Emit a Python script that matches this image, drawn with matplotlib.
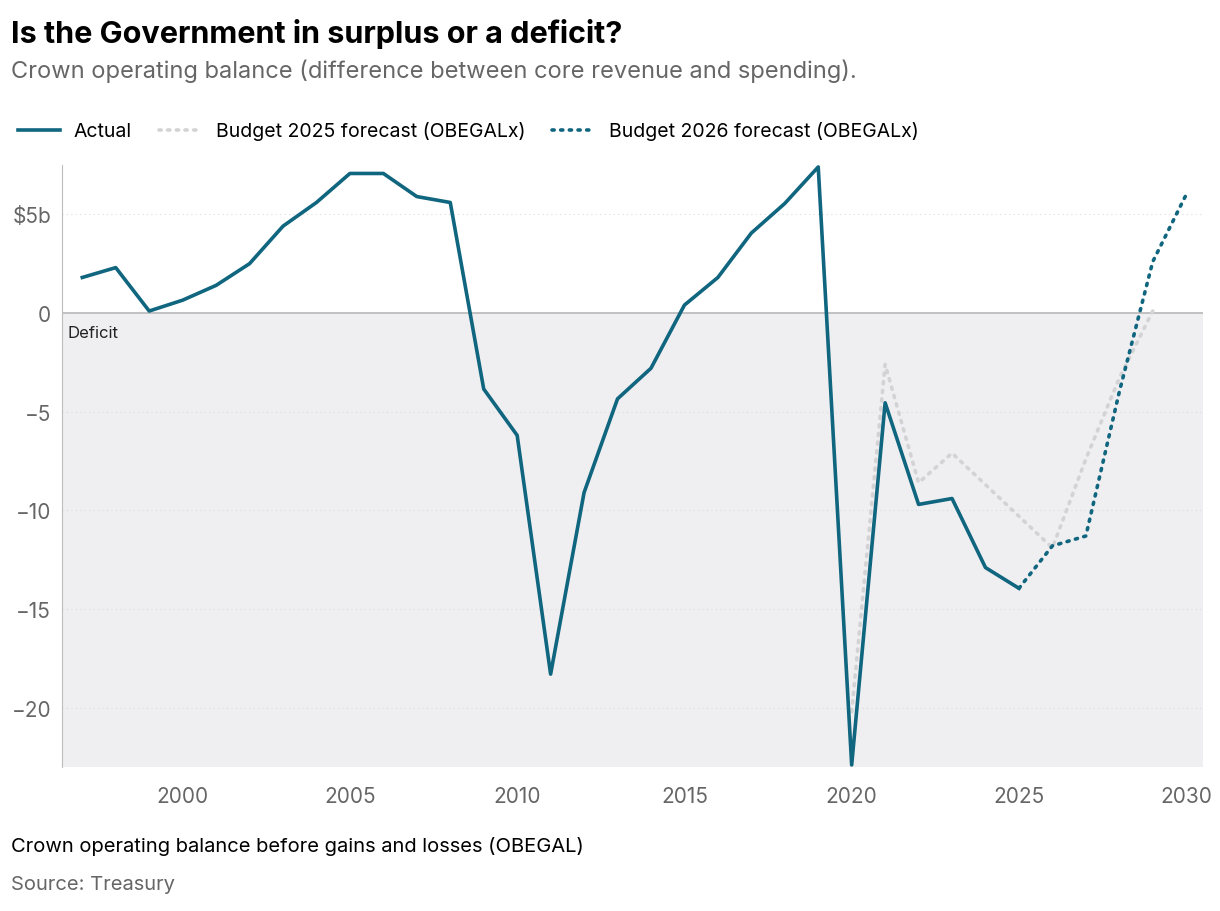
import numpy as np
import matplotlib.pyplot as plt

plt.rcParams['font.family'] = ['Inter', 'DejaVu Sans']

years_actual = list(range(1997, 2026))
actual = [1.8, 2.3, 0.1, 0.65, 1.4, 2.5, 4.4, 5.6, 7.07, 7.07, 5.9, 5.6,
          -3.85, -6.2, -18.3, -9.1, -4.35, -2.8, 0.4, 1.8, 4.05, 5.55, 7.4,
          -22.9, -4.55, -9.7, -9.4, -12.9, -13.95]

years_b25 = list(range(2020, 2030))
budget_2025 = [-20.2, -2.6, -8.6, -7.1, -8.7, -10.3, -11.9, -7.4, -3.3, 0.1]

years_b26 = list(range(2025, 2031))
budget_2026 = [-13.95, -11.8, -11.3, -4.0, 2.6, 6.0]

teal = '#10657f'
grey = '#d3d3d5'

fig = plt.figure(figsize=(12.2, 9.12), dpi=100)
ax = fig.add_axes([0.051, 0.158, 0.935, 0.66])

xmin, xmax, ymin, ymax = 1996.4, 2030.5, -23.0, 7.5
ax.axhspan(ymin, 0, color='#efeff1', zorder=0, lw=0)
ax.axhline(0, color='#bdbdbd', lw=1.3, zorder=1)
for v in [5, -5, -10, -15, -20]:
    ax.axhline(v, color='#dcdcdc', lw=0.8, ls=(0, (1, 3)), zorder=1)

ax.plot(years_b25, budget_2025, color=grey, lw=2.6, ls=(0, (0.6, 1.8)),
        dash_capstyle='round', zorder=2, label='Budget 2025 forecast (OBEGALx)')
ax.plot(years_actual, actual, color=teal, lw=2.6, zorder=3, label='Actual')
ax.plot(years_b26, budget_2026, color=teal, lw=2.6, ls=(0, (0.6, 1.8)),
        dash_capstyle='round', zorder=3, label='Budget 2026 forecast (OBEGALx)')

ax.set_xlim(xmin, xmax)
ax.set_ylim(ymin, ymax)
for s in ['top', 'right', 'bottom']:
    ax.spines[s].set_visible(False)
ax.spines['left'].set_color('#bdbdbd')
ax.set_xticks([2000, 2005, 2010, 2015, 2020, 2025, 2030])
ax.set_yticks([5, 0, -5, -10, -15, -20])
ax.set_yticklabels(['$5b', '0', '\u22125', '\u221210', '\u221215', '\u221220'])
ax.tick_params(length=0, labelsize=15, colors='#666666', pad=8)
ax.tick_params(axis='x', pad=14)
ax.text(1996.55, -1.0, 'Deficit', fontsize=12, va='center', color='#222222')

h, l = ax.get_legend_handles_labels()
order = [1, 0, 2]
fig.legend([h[i] for i in order], [l[i] for i in order], loc='upper left',
           bbox_to_anchor=(0.0, 0.885), ncol=3, frameon=False, fontsize=14,
           handlelength=2.2, columnspacing=1.4, handletextpad=0.7)

fig.text(0.009, 0.963, 'Is the Government in surplus or a deficit?', fontsize=22,
         fontweight='bold', va='center')
fig.text(0.009, 0.922, 'Crown operating balance (difference between core revenue and spending).',
         fontsize=17, color='#666666', va='center')
fig.text(0.009, 0.072, 'Crown operating balance before gains and losses (OBEGAL)',
         fontsize=14.5, va='center')
fig.text(0.009, 0.030, 'Source: Treasury', fontsize=14.5, color='#666666', va='center')

fig.savefig('out.png', dpi=100)
